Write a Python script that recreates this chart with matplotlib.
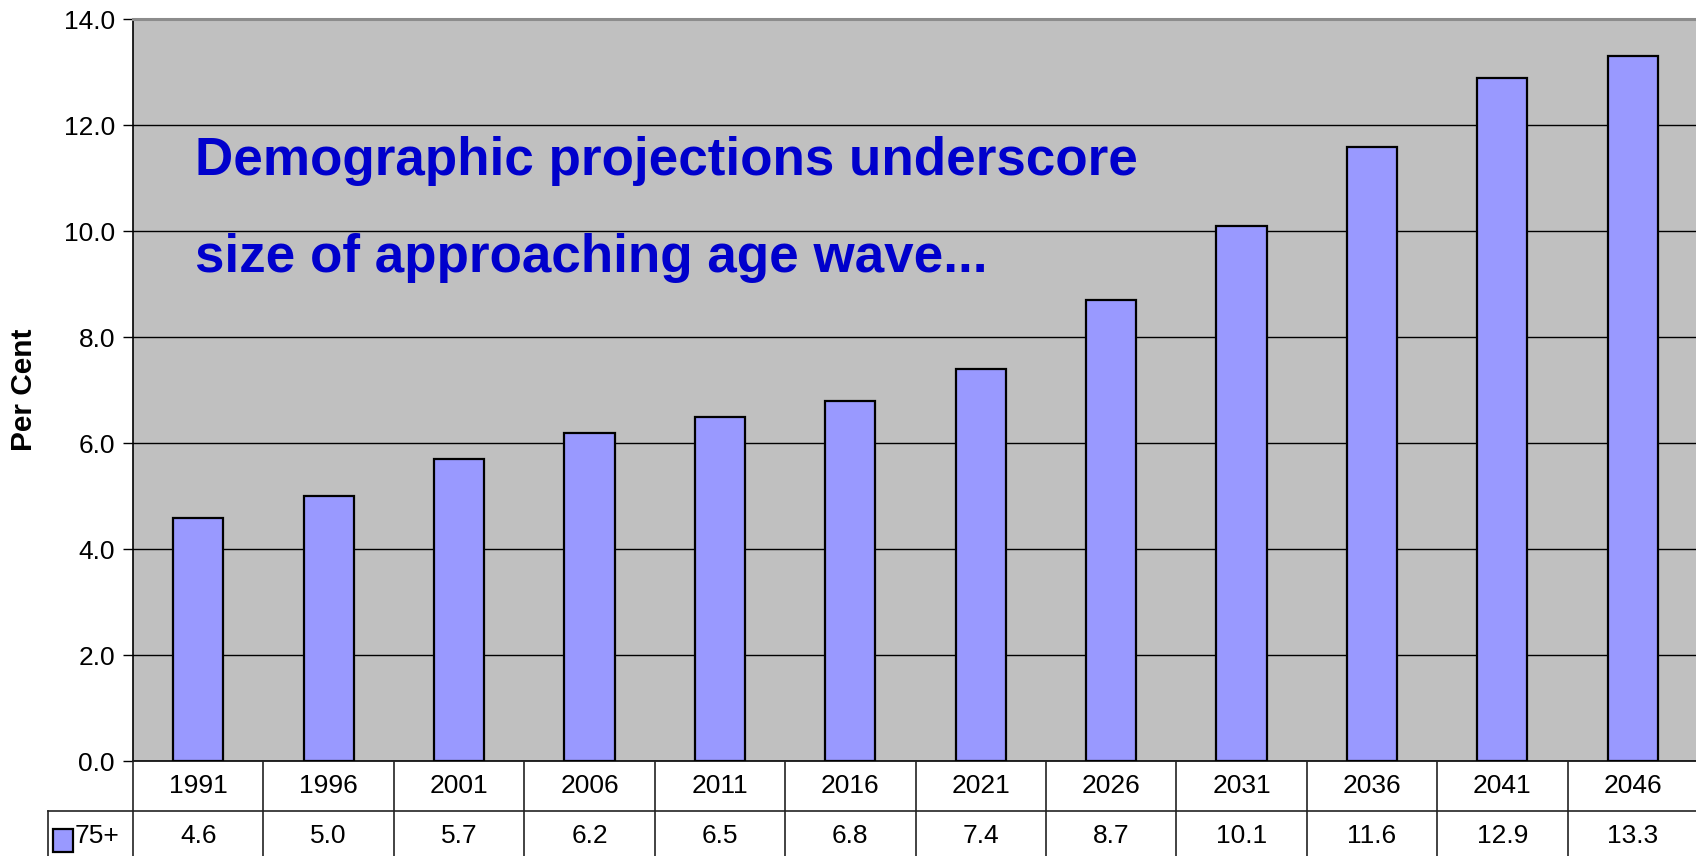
import matplotlib.pyplot as plt
from matplotlib.patches import Rectangle

plt.rcParams['font.family'] = ['Liberation Sans', 'DejaVu Sans']

years = ['1991', '1996', '2001', '2006', '2011', '2016',
         '2021', '2026', '2031', '2036', '2041', '2046']
share_75plus = [4.6, 5.0, 5.7, 6.2, 6.5, 6.8, 7.4, 8.7, 10.1, 11.6, 12.9, 13.3]
series_name = '75+'
yticks = [0, 2, 4, 6, 8, 10, 12, 14]

bar_color = '#9999FF'
W, H = 1696, 856
fig = plt.figure(figsize=(W / 100, H / 100), dpi=100)

# main plot area
left, right = 133, 1698
top, base = 19.3, 761.3
ax = fig.add_axes([left / W, (H - base) / H, (right - left) / W, (base - top) / H])
ax.set_facecolor('#C0C0C0')
x = range(len(years))
ax.bar(x, share_75plus, width=0.385, color=bar_color, edgecolor='black',
       linewidth=1.6, zorder=3)
ax.set_xlim(-0.5, len(years) - 0.5)
ax.set_ylim(0, 14)
ax.set_yticks(yticks)
ax.set_yticklabels([f'{v:.1f}' for v in yticks], fontsize=19)
ax.set_xticks([])
ax.tick_params(axis='y', length=7, width=1, pad=6)
for v in yticks[1:-1]:
    ax.axhline(v, color='black', linewidth=1, zorder=1)
ax.spines['top'].set_color('#8C8C8C')
ax.spines['top'].set_linewidth(2.2)
ax.spines['right'].set_visible(False)
ax.spines['left'].set_linewidth(1.2)
ax.spines['bottom'].set_linewidth(1.2)
ax.set_ylabel('Per Cent', fontsize=21.5, fontweight='bold', labelpad=0)
ax.yaxis.set_label_coords((38 - left) / (right - left), (base - 390) / (base - top))

ax.text((195 - left) / (right - left), (base - 175) / (base - top),
        'Demographic projections underscore', transform=ax.transAxes,
        fontsize=38.2, fontweight='bold', color='#0000CC', va='baseline', zorder=5)
ax.text((195 - left) / (right - left), (base - 271.7) / (base - top),
        'size of approaching age wave...', transform=ax.transAxes,
        fontsize=38.2, fontweight='bold', color='#0000CC', va='baseline', zorder=5)

# data table under the chart
row_h = 50
tab_bottom = base + 2 * row_h
tax = fig.add_axes([left / W, (H - tab_bottom) / H, (right - left) / W, 2 * row_h / H])
tax.set_xlim(-0.5, len(years) - 0.5)
tax.set_ylim(0, 2)
tax.axis('off')
col_w = (right - left) / len(years)
legend_x = -0.5 - (left - 48) / col_w
line_kw = dict(color='#222222', linewidth=1.2, clip_on=False)
tax.plot([legend_x, len(years) - 0.5], [1, 1], **line_kw)
tax.plot([legend_x, legend_x], [0, 1], **line_kw)
for i in range(len(years) + 1):
    tax.plot([i - 0.5, i - 0.5], [0, 2], **line_kw)
for i, (yr, v) in enumerate(zip(years, share_75plus)):
    tax.text(i, 1.5, yr, ha='center', va='center', fontsize=19)
    tax.text(i, 0.5, f'{v:.1f}', ha='center', va='center', fontsize=19)

mx0 = -0.5 - (left - 53) / col_w
mx1 = -0.5 - (left - 73) / col_w
tax.add_patch(Rectangle((mx0, 0.18), mx1 - mx0, 0.46, facecolor=bar_color,
                        edgecolor='black', linewidth=1.6, clip_on=False))
tax.text(-0.5 - (left - 75) / col_w, 0.5, series_name, ha='left', va='center',
         fontsize=19)

fig.savefig('out.png', dpi=100)
